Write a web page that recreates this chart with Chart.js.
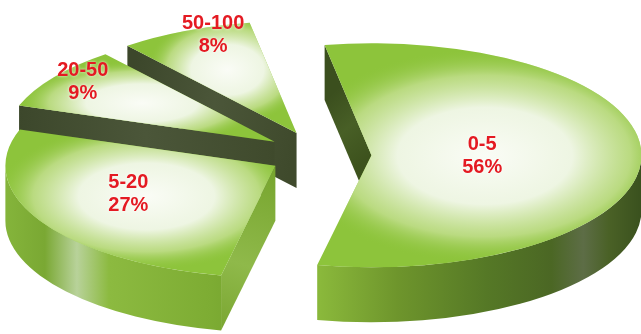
<!DOCTYPE html>
<html>
<head>
<meta charset="utf-8">
<script src="https://cdn.jsdelivr.net/npm/chart.js@4"></script>
<style>
  html, body { margin: 0; padding: 0; background: #fff; }
  #wrap { width: 641px; height: 334px; }
</style>
</head>
<body>
<div id="wrap"><canvas id="pieChart"></canvas></div>
<script>
const ranges = ["0-5", "5-20", "20-50", "50-100"];
const shares = [56, 27, 9, 8];

// how far each slice is pulled out of the pie (px)
const explode = [51, 52, 56, 58];
// where the labels sit: fraction of radius along the slice middle + small turn (deg)
const labelRadius = [0.41, 0.6, 0.89, 0.93];
const labelTurn = [-1, 5, 2, 5];
// pale highlight on each top: position along the middle, width and height (fractions)
const glowAt = [0.42, 0.55, 0.6, 0.62];
const glowW = [0.72, 0.56, 0.46, 0.3];
const glowH = [0.96, 0.66, 0.38, 0.5];

const tilt = 0.415;  // vertical squash
const depth = 55;    // thickness of the pie
const topY = 155;    // screen y of the pie centre

function wallGradient(ctx) {
  const g = ctx.createLinearGradient(0, 0, 641, 0);
  g.addColorStop(0.00, "#86b63c");
  g.addColorStop(0.07, "#7aa833");
  g.addColorStop(0.12, "#b8d29a");
  g.addColorStop(0.17, "#8cba40");
  g.addColorStop(0.33, "#7dac33");
  g.addColorStop(0.42, "#6f9c2b");
  g.addColorStop(0.50, "#8ab83b");
  g.addColorStop(0.62, "#6e952c");
  g.addColorStop(0.76, "#557826");
  g.addColorStop(0.86, "#4b6724");
  g.addColorStop(0.91, "#5d6d46");
  g.addColorStop(0.95, "#4a6126");
  g.addColorStop(1.00, "#3a511e");
  return g;
}

function faceColor(ctx, x0, y0, x1, y1, nx) {
  const g = ctx.createLinearGradient(x0, y0, x1, y1);
  if (nx > 0.3) {
    g.addColorStop(0, "#76a42d");
    g.addColorStop(0.6, "#8fb94a");
    g.addColorStop(1, "#7aa631");
  } else if (nx < -0.8) {
    g.addColorStop(0, "#3d521d");
    g.addColorStop(0.5, "#485f26");
    g.addColorStop(1, "#3b4f1e");
  } else {
    g.addColorStop(0, "#3f4a2c");
    g.addColorStop(0.5, "#4b5639");
    g.addColorStop(1, "#3c472b");
  }
  return g;
}

// draws the pie as a thick tilted disc, using the arc elements Chart.js laid out
const pie3d = {
  id: "pie3d",
  beforeDatasetsDraw(chart) {
    const ctx = chart.ctx;
    const arcs = chart.getDatasetMeta(0).data;
    const info = arcs.map((a, i) => {
      const m = (a.startAngle + a.endAngle) / 2;
      return {
        a, i, m,
        sx: a.x + Math.cos(m) * explode[i],
        sy: topY + Math.sin(m) * explode[i] * tilt,
        rx: a.outerRadius,
        ry: a.outerRadius * tilt
      };
    });
    // paint from the back to the front
    info.sort((p, q) => p.sy - q.sy);

    info.forEach(p => {
      const { a, i, m, sx, sy, rx, ry } = p;
      const t0 = a.startAngle, t1 = a.endAngle;

      // cut faces
      const faces = [];
      if (Math.cos(t0) < 0) faces.push({ t: t0, nx: Math.sin(t0) });
      if (Math.cos(t1) > 0) faces.push({ t: t1, nx: -Math.sin(t1) });
      faces.forEach(f => {
        const ex = sx + Math.cos(f.t) * rx, ey = sy + Math.sin(f.t) * ry;
        ctx.beginPath();
        ctx.moveTo(sx, sy);
        ctx.lineTo(ex, ey);
        ctx.lineTo(ex, ey + depth);
        ctx.lineTo(sx, sy + depth);
        ctx.closePath();
        ctx.fillStyle = faceColor(ctx, sx, sy, ex, ey + depth, f.nx);
        ctx.fill();
      });

      // outer wall, only the part facing the viewer
      const w0 = Math.max(t0, 0), w1 = Math.min(t1, Math.PI);
      if (w1 > w0) {
        ctx.beginPath();
        ctx.ellipse(sx, sy, rx, ry, 0, w0, w1);
        ctx.ellipse(sx, sy + depth, rx, ry, 0, w1, w0, true);
        ctx.closePath();
        ctx.fillStyle = wallGradient(ctx);
        ctx.fill();
      }

      // top of the slice
      ctx.save();
      ctx.translate(0, topY);
      ctx.scale(1, tilt);
      ctx.translate(Math.cos(m) * explode[i], -a.y + Math.sin(m) * explode[i]);
      const saved = a.options;
      a.options = Object.assign({}, saved, { backgroundColor: "#8dc43b", borderWidth: 0, offset: 0 });
      a.draw(ctx);
      a.options = saved;
      ctx.restore();

      // pale sheen over the top, kept inside the slice outline
      ctx.save();
      ctx.beginPath();
      ctx.moveTo(sx, sy);
      ctx.ellipse(sx, sy, rx, ry, 0, t0, t1);
      ctx.closePath();
      ctx.clip();
      const gx = sx + Math.cos(m) * glowAt[i] * rx;
      const gy = sy + Math.sin(m) * glowAt[i] * ry;
      const gw = glowW[i] * rx, gh = glowH[i] * ry;
      ctx.translate(gx, gy);
      ctx.scale(1, gh / gw);
      const g = ctx.createRadialGradient(0, 0, 0, 0, 0, gw);
      g.addColorStop(0, "rgba(250,252,246,1)");
      g.addColorStop(0.45, "rgba(241,247,232,0.97)");
      g.addColorStop(0.75, "rgba(205,228,158,0.7)");
      g.addColorStop(1, "rgba(141,196,59,0)");
      ctx.fillStyle = g;
      ctx.beginPath();
      ctx.arc(0, 0, gw, 0, Math.PI * 2);
      ctx.fill();
      ctx.restore();
    });
    return false;
  },
  afterDraw(chart) {
    const ctx = chart.ctx;
    const arcs = chart.getDatasetMeta(0).data;
    ctx.save();
    ctx.font = 'bold 20px "Liberation Sans", Arial, sans-serif';
    ctx.textAlign = "center";
    ctx.textBaseline = "middle";
    ctx.fillStyle = "#e41a22";
    ctx.shadowColor = "rgba(255,255,255,0.9)";
    ctx.shadowBlur = 3;
    arcs.forEach((a, i) => {
      const m = (a.startAngle + a.endAngle) / 2;
      const sx = a.x + Math.cos(m) * explode[i];
      const sy = topY + Math.sin(m) * explode[i] * tilt;
      const lm = m + labelTurn[i] * Math.PI / 180;
      const r = labelRadius[i] * a.outerRadius;
      const lx = sx + Math.cos(lm) * r;
      const ly = sy + Math.sin(lm) * r * tilt;
      ctx.fillText(ranges[i], lx, ly - 11);
      ctx.fillText(shares[i] + "%", lx, ly + 12);
    });
    ctx.restore();
  }
};

new Chart(document.getElementById("pieChart"), {
  type: "pie",
  data: {
    labels: ranges,
    datasets: [{
      data: shares,
      backgroundColor: "#8dc43b",
      borderWidth: 0,
      radius: 270
    }]
  },
  options: {
    responsive: true,
    maintainAspectRatio: false,
    animation: false,
    rotation: -10,
    layout: { padding: 0 },
    plugins: {
      legend: { display: false },
      tooltip: { enabled: false }
    }
  },
  plugins: [pie3d]
});
</script>
</body>
</html>
